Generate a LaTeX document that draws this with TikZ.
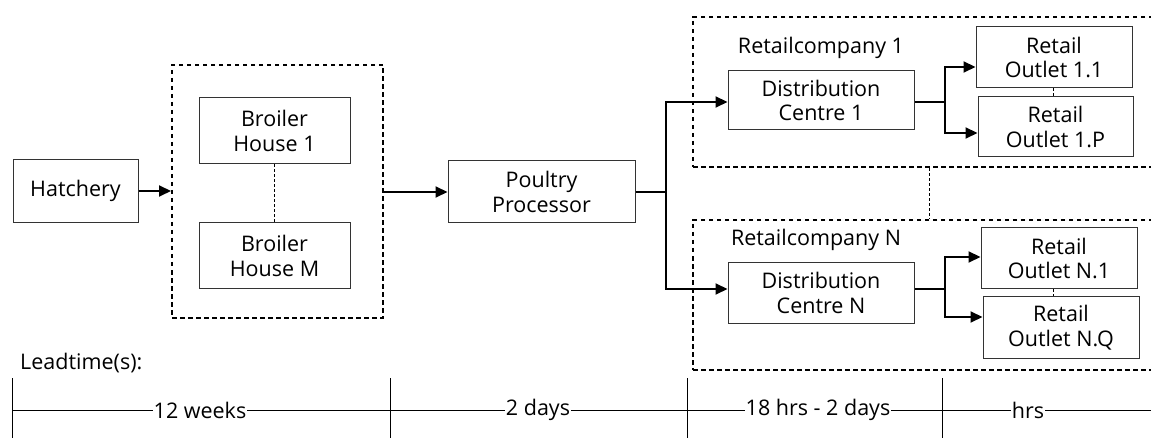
\documentclass[tikz,border=0pt]{standalone}
\usepackage{fontspec}
\setmainfont{Open Sans}
\usetikzlibrary{arrows.meta}
\tikzset{
	unit/.style={draw=black!80, line width=1pt, align=center, inner sep=0pt},
	group/.style={draw=black, line width=2pt, dash pattern=on 4.5pt off 3.5pt},
	link/.style={dash pattern=on 3pt off 2pt, line width=0.8pt},
	trunk/.style={line width=2pt},
	flow/.style={trunk, -{Triangle[length=12pt,width=11pt]}},
	every node/.append style={font=\fontsize{21.5}{24.5}\selectfont}
}

\begin{document}
\begin{tikzpicture}[x=1pt, y=-1pt]
			%%%%% START %%%%%
			\useasboundingbox (0, 0) rectangle (1151, 438);
			\clip (0, 0) rectangle (1151, 438);
			
			% groups
			\node[group, minimum width=211pt, minimum height=253pt] (farm) at (277.5, 191.5) {};
			\node[group, minimum width=507pt, minimum height=150pt] (rc1) at (946.5, 92) {};
			\node[group, minimum width=507pt, minimum height=150pt] (rcn) at (946.5, 295) {};
			\node (rc1lbl) at (821, 48) {Retailcompany 1};
			\node (rcnlbl) at (816, 240) {Retailcompany N};
			
			% units
			\node[unit, minimum width=125pt, minimum height=63pt] (hatch) at (75.5, 191) {Hatchery};
			\node[unit, minimum width=151pt, minimum height=66pt] (bh1) at (274.5, 131) {Broiler\\House 1};
			\node[unit, minimum width=151pt, minimum height=66pt] (bhm) at (274.5, 256) {Broiler\\House M};
			\node[unit, minimum width=187pt, minimum height=62pt] (proc) at (541.5, 192) {Poultry\\Processor};
			\node[unit, minimum width=186pt, minimum height=59pt] (dc1) at (821, 100.5) {Distribution\\Centre 1};
			\node[unit, minimum width=186pt, minimum height=60pt] (dcn) at (821, 293) {Distribution\\Centre N};
			\node[unit, minimum width=156pt, minimum height=61pt] (ro11) at (1054, 57.5) {Retail\\Outlet 1.1};
			\node[unit, minimum width=155pt, minimum height=60pt] (ro1p) at (1055.5, 127) {Retail\\Outlet 1.P};
			\node[unit, minimum width=156pt, minimum height=61pt] (ron1) at (1059, 258.5) {Retail\\Outlet N.1};
			\node[unit, minimum width=156pt, minimum height=61pt] (ronq) at (1061, 327.5) {Retail\\Outlet N.Q};
			
			% dotted links
			\draw[link] (bh1) -- (bhm);
			\draw[link] (rc1.south -| 929, 0) -- (rcn.north -| 929, 0);
			\draw[link] (ro11.south -| 1053, 0) -- (ro1p.north -| 1053, 0);
			\draw[link] (ron1.south -| 1053, 0) -- (ronq.north -| 1053, 0);
			
			% flows
			\coordinate (split) at (666, 192);
			\coordinate (fork1) at (945, 102);
			\coordinate (forkn) at (945, 289);
			\draw[flow] (hatch.east) -- (farm.west |- hatch.east);
			\draw[flow] (farm.east |- proc.west) -- (proc.west);
			\draw[trunk] (proc.east) -- (split);
			\draw[flow] (split) |- ([yshift=-1.5pt]dc1.west);
			\draw[flow] (split) |- ([yshift=4pt]dcn.west);
			\draw[trunk] (dc1.east |- fork1) -- (fork1);
			\draw[flow] (fork1) |- ([yshift=-9.5pt]ro11.west);
			\draw[flow] (fork1) |- ([yshift=-6pt]ro1p.west);
			\draw[trunk] (dcn.east |- forkn) -- (forkn);
			\draw[flow] (forkn) |- ([yshift=1.5pt]ron1.west);
			\draw[flow] (forkn) |- ([yshift=10.5pt]ronq.west);
			
			% lead times
			\node[anchor=west, inner sep=0pt] (lead) at (20, 363) {Leadtime(s):};
			\draw[line width=0.9pt] (12, 410) -- (1151, 410);
			\foreach \x in {12, 390, 687, 942}
				\draw[line width=0.9pt] (\x, 378) -- (\x, 438);
			\node[fill=white, inner xsep=1pt] (lt1) at (200, 410) {12 weeks};
			\node[fill=white, inner xsep=1pt] (lt2) at (538, 410) {2 days};
			\node[fill=white, inner xsep=1pt] (lt3) at (818, 410) {18 hrs - 2 days};
			\node[fill=white, inner xsep=1pt] (lt4) at (1028, 410) {hrs};
			
			%%%%% END %%%%%
\end{tikzpicture}
\end{document}
